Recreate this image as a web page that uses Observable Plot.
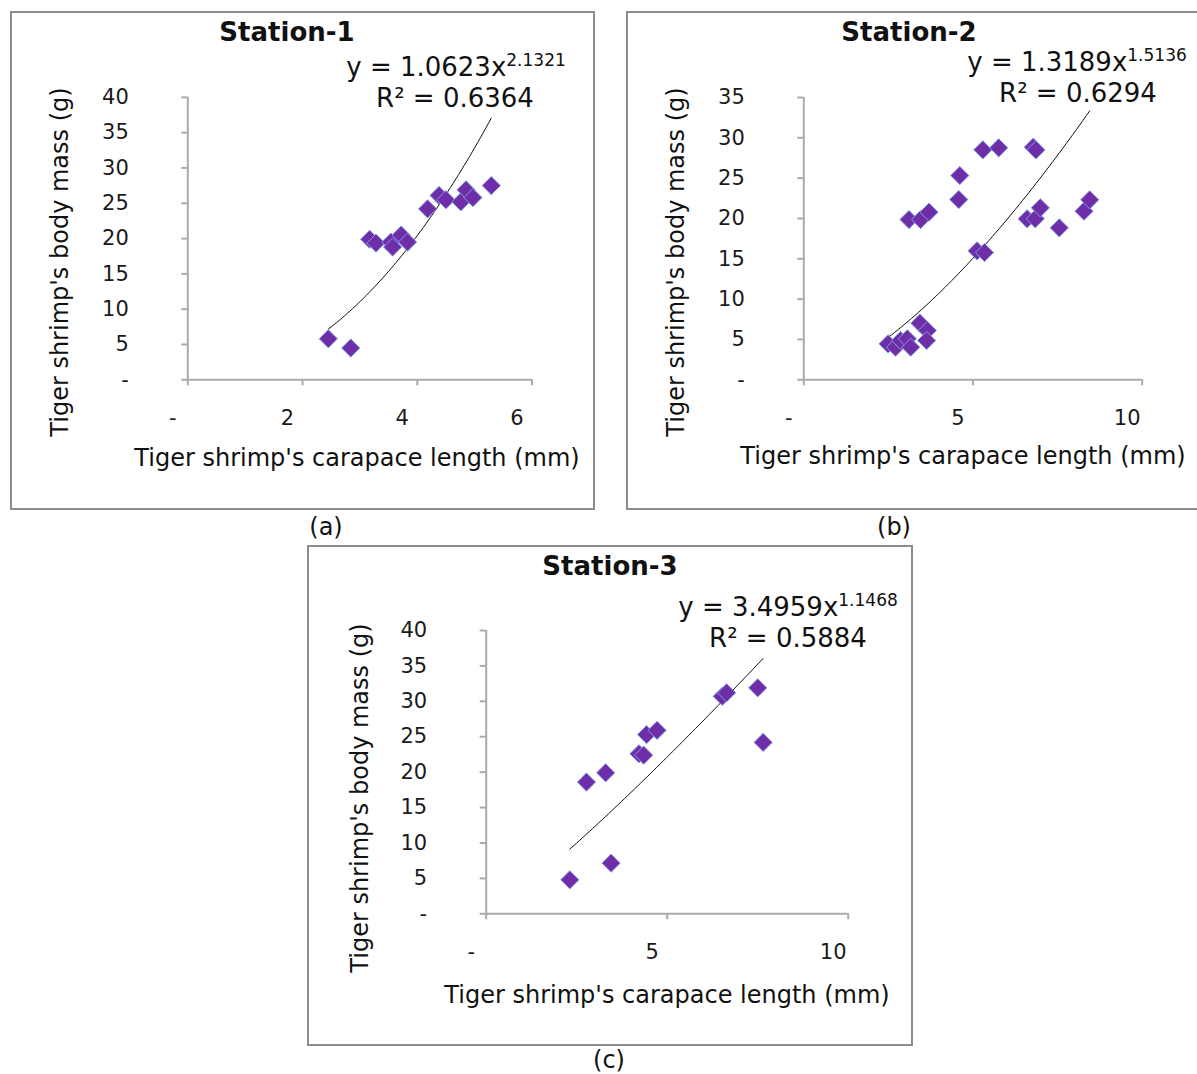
<!DOCTYPE html>
<html>
<head>
<meta charset="utf-8">
<script src="https://cdn.jsdelivr.net/npm/d3@7"></script>
<script src="https://cdn.jsdelivr.net/npm/@observablehq/plot@0.6"></script>
<style>
  html, body { margin: 0; padding: 0; background: #fff; overflow: hidden; }
  #page { position: relative; width: 1197px; height: 1074px; overflow: hidden; font-family: "DejaVu Sans", Verdana, sans-serif; color: #111; }
  .frame { position: absolute; border: 2px solid #8c8c8c; box-sizing: border-box; background: #fff; }
  .plotbox { position: absolute; }
  .t { position: absolute; transform: translate(-50%, -50%); white-space: nowrap; line-height: 1; }
  .title { font-weight: bold; font-size: 26px; }
  .eq { font-size: 26px; }
  .eq sup { font-size: 17px; position: relative; top: -10px; vertical-align: baseline; }
  .axt { font-size: 24px; }
  .yt { transform: translate(-50%, -50%) rotate(-90deg); }
  .cap { font-size: 24px; }
</style>
</head>
<body>
<div id="page"></div>
<script>
// ---------------- data ----------------
const station1Length = [2.45, 2.84, 3.17, 3.28, 3.54, 3.57, 3.72, 3.83, 4.18, 4.38, 4.50, 4.76, 4.85, 4.97, 5.29];
const station1Mass   = [5.8, 4.5, 19.9, 19.35, 19.5, 18.8, 20.5, 19.5, 24.2, 26.1, 25.5, 25.2, 26.9, 25.8, 27.5];

const station2Length = [2.49, 2.71, 2.86, 3.06, 3.16, 3.43, 3.65, 3.63, 3.11, 3.45, 3.70, 4.58, 4.61, 5.12, 5.34, 5.29, 5.76, 6.78, 6.60, 6.84, 6.99, 7.55, 8.28, 8.45, 6.86];
const station2Mass   = [4.46, 4.04, 4.87, 5.08, 4.04, 7.02, 6.11, 4.87, 19.87, 19.87, 20.78, 22.35, 25.33, 15.99, 15.78, 28.51, 28.76, 28.84, 19.96, 19.96, 21.32, 18.84, 20.90, 22.32, 28.5];

const station3Length = [2.31, 3.45, 2.77, 3.30, 4.22, 4.35, 4.43, 4.72, 6.52, 6.64, 7.50, 7.65];
const station3Mass   = [4.8, 7.15, 18.6, 19.9, 22.6, 22.4, 25.3, 25.9, 30.7, 31.2, 31.9, 24.2];

// power trendline coefficients shown on the chart: y = a * x^b
const trendA = [1.0623, 1.3189, 3.4959];
const trendB = [2.1321, 1.5136, 1.1468];
const rSquared = ["0.6364", "0.6294", "0.5884"];
const stationNames = ["Station-1", "Station-2", "Station-3"];
const captions = ["(a)", "(b)", "(c)"];

const xTicks1 = [0, 2, 4, 6];
const xTicks23 = [0, 5, 10];
const yTicks40 = [0, 5, 10, 15, 20, 25, 30, 35, 40];
const yTicks35 = [0, 5, 10, 15, 20, 25, 30, 35];

const xTitle = "Tiger shrimp's carapace length (mm)";
const yTitle = "Tiger shrimp's body mass (g)";

// ---------------- layout ----------------
const panels = [
  { lx: station1Length, my: station1Mass, xDomain: [0, 6], yDomain: [0, 40], xTicks: xTicks1, yTicks: yTicks40,
    frame: [10, 11, 585, 499], svg: [10, 11, 584, 499], margins: [85.8, 62.5, 130.7, 177.3],
    title: [287, 32], eq1: [456, 67], eq2: [455, 98], xt: [357, 458], yt: [60, 262], cap: [326, 527] },
  { lx: station2Length, my: station2Mass, xDomain: [0, 10], yDomain: [0, 35], xTicks: xTicks23, yTicks: yTicks35,
    frame: [626, 11, 600, 499], svg: [626, 11, 571, 499], margins: [86, 55.3, 130.7, 177.3],
    title: [909, 32], eq1: [1077, 62], eq2: [1078, 93], xt: [963, 456], yt: [676, 262], cap: [894, 527] },
  { lx: station3Length, my: station3Mass, xDomain: [0, 10], yDomain: [0, 40], xTicks: xTicks23, yTicks: yTicks40,
    frame: [307, 545, 606, 501], svg: [307, 545, 605, 500], margins: [85, 64.3, 131.7, 178.7],
    title: [610, 566], eq1: [788, 607], eq2: [788, 638], xt: [667, 995], yt: [360, 798], cap: [609, 1060] }
];

const page = document.getElementById("page");
const fmt = d => d === 0 ? "-" : String(d);

function addText(cls, pos, html) {
  const el = document.createElement("div");
  el.className = "t " + cls;
  el.style.left = pos[0] + "px";
  el.style.top = pos[1] + "px";
  el.innerHTML = html;
  page.appendChild(el);
}

panels.forEach((p, i) => {
  const fr = document.createElement("div");
  fr.className = "frame";
  fr.style.left = p.frame[0] + "px"; fr.style.top = p.frame[1] + "px";
  fr.style.width = p.frame[2] + "px"; fr.style.height = p.frame[3] + "px";
  page.appendChild(fr);

  const pts = p.lx.map((x, k) => ({ x, y: p.my[k] }));
  const [x0, x1] = d3.extent(p.lx);
  const curve = d3.range(0, 61).map(k => {
    const x = x0 + (x1 - x0) * k / 60;
    return { x, y: trendA[i] * Math.pow(x, trendB[i]) };
  });

  const [mt, mr, mb, ml] = p.margins;
  const chart = Plot.plot({
    width: p.svg[2], height: p.svg[3],
    marginTop: mt, marginRight: mr, marginBottom: mb, marginLeft: ml,
    x: { domain: p.xDomain, axis: null },
    y: { domain: p.yDomain, axis: null },
    style: { background: "transparent", overflow: "visible", fontFamily: "DejaVu Sans, Verdana, sans-serif", color: "#1a1a1a" },
    marks: [
      Plot.ruleY([0], { stroke: "#ababab", strokeWidth: 2 }),
      Plot.ruleX([0], { stroke: "#ababab", strokeWidth: 2 }),
      Plot.axisX({ ticks: p.xTicks, tickSize: 6, tickFormat: () => "", stroke: "#ababab", strokeWidth: 2, label: null }),
      Plot.axisY({ ticks: p.yTicks, tickSize: 6, tickFormat: () => "", stroke: "#ababab", strokeWidth: 2, label: null }),
      Plot.axisX({ ticks: p.xTicks, tickSize: 0, tickPadding: 30, dx: -15, tickFormat: fmt, fontSize: 21, fill: "#1a1a1a", label: null }),
      Plot.axisY({ ticks: p.yTicks, tickSize: 0, tickPadding: 59, tickFormat: fmt, fontSize: 21, fill: "#1a1a1a", label: null }),
      Plot.line(curve, { x: "x", y: "y", stroke: "#111", strokeWidth: 1 }),
      Plot.dot(pts, { x: "x", y: "y", symbol: "diamond2", r: 8.2, fill: "#6f2da8", stroke: "#7f9be6", strokeWidth: 1 })
    ]
  });
  const box = document.createElement("div");
  box.className = "plotbox";
  box.style.left = p.svg[0] + "px"; box.style.top = p.svg[1] + "px";
  box.appendChild(chart);
  page.appendChild(box);

  addText("title", p.title, stationNames[i]);
  addText("eq", p.eq1, "y = " + trendA[i].toFixed(4) + "x<sup>" + trendB[i].toFixed(4) + "</sup>");
  addText("eq", p.eq2, "R² = " + rSquared[i]);
  addText("axt", p.xt, xTitle);
  addText("axt yt", p.yt, yTitle);
  addText("cap", p.cap, captions[i]);
});
</script>
</body>
</html>
